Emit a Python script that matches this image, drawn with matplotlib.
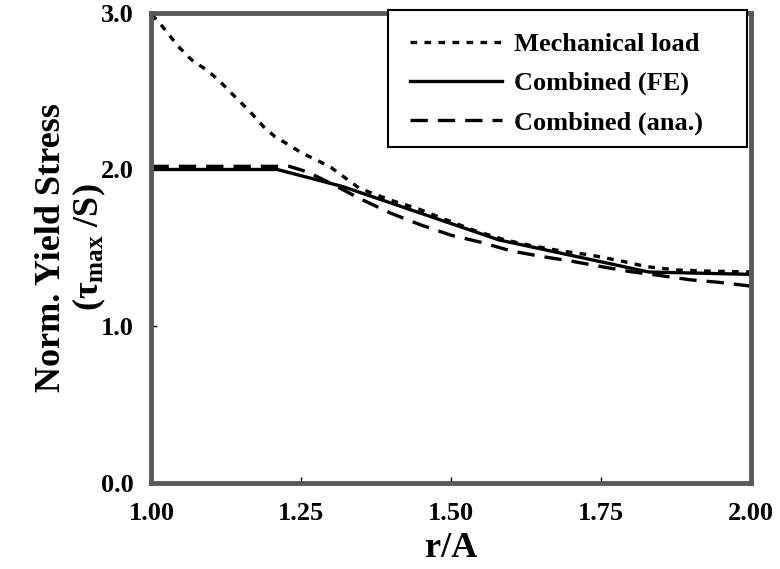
import matplotlib
matplotlib.use("Agg")
import matplotlib.pyplot as plt
from matplotlib.patches import Rectangle

# normalised yield stress vs. radius ratio
mech_r = [1.00, 1.014, 1.045, 1.067, 1.092, 1.112, 1.131, 1.148, 1.167, 1.187,
          1.206, 1.228, 1.251, 1.277, 1.300, 1.322, 1.347, 1.398, 1.443, 1.493,
          1.540, 1.590, 1.637, 1.685, 1.732, 1.782, 1.827, 1.877, 1.927, 2.00]
mech_y = [2.99, 2.934, 2.785, 2.700, 2.636, 2.572, 2.497, 2.433, 2.359, 2.274,
          2.210, 2.160, 2.105, 2.058, 2.012, 1.950, 1.880, 1.805, 1.752, 1.677,
          1.609, 1.550, 1.511, 1.479, 1.454, 1.417, 1.379, 1.358, 1.351, 1.345]

fe_r = [1.00, 1.21, 1.32, 1.58, 1.83, 2.00]
fe_y = [2.00, 2.00, 1.89, 1.55, 1.345, 1.33]

ana_r = [1.00, 1.23, 1.26, 1.30, 1.35, 1.40, 1.45, 1.50, 1.55, 1.60, 1.65,
         1.70, 1.75, 1.80, 1.85, 1.90, 1.95, 2.00]
ana_y = [2.02, 2.02, 1.985, 1.91, 1.81, 1.72, 1.645, 1.58, 1.535, 1.48, 1.445,
         1.415, 1.38, 1.347, 1.322, 1.295, 1.278, 1.255]

x_ticks = [1.00, 1.25, 1.50, 1.75, 2.00]
x_labels = ["1.00", "1.25", "1.50", "1.75", "2.00"]
y_ticks = [0.0, 1.0, 2.0, 3.0]
y_labels = ["0.0", "1.0", "2.0", "3.0"]

plt.rcParams["font.family"] = ["Liberation Serif", "DejaVu Serif"]
plt.rcParams["font.weight"] = "bold"
plt.rcParams["mathtext.fontset"] = "custom"
plt.rcParams["mathtext.rm"] = "Liberation Serif:bold"
plt.rcParams["mathtext.it"] = "Liberation Serif:bold"
plt.rcParams["mathtext.bf"] = "Liberation Serif:bold"

fig = plt.figure(figsize=(7.8, 5.69), dpi=100)
ax = fig.add_axes([0.1942, 0.152, 0.768, 0.8252])

lw = 2.4
ax.plot(mech_r, mech_y, color="black", lw=lw, dashes=(2.0, 2.2),
        label="Mechanical load")
ax.plot(fe_r, fe_y, color="black", lw=lw, label="Combined (FE)")
ax.plot(ana_r, ana_y, color="black", lw=lw, dashes=(5.2, 3.0),
        label="Combined (ana.)")

ax.set_xlim(1.0, 2.0)
ax.set_ylim(0.0, 3.0)
ax.set_xticks(x_ticks)
ax.set_xticklabels(x_labels)
ax.set_yticks(y_ticks)
ax.set_yticklabels(y_labels)
ax.tick_params(direction="in", length=4, width=1, labelsize=19)
ax.tick_params(axis="x", pad=14)
ax.tick_params(axis="y", pad=13)

for side in ax.spines.values():
    side.set_color("0.35")
    side.set_linewidth(3.5)

ax.set_xlabel("r/A", fontsize=26, fontweight="bold", labelpad=5)

fig.text(0.066, 0.565, "Norm. Yield Stress", rotation=90, fontsize=26,
         fontweight="bold", ha="center", va="center")
fig.text(0.115, 0.565, r"($\tau_{\rm max}$ /S)", rotation=90, fontsize=26,
         fontweight="bold", ha="center", va="center")

# legend box is drawn separately so it can be wider than its entries
box = Rectangle((0.395, 0.7146), 0.5992, 0.2918, transform=ax.transAxes,
                facecolor="white", edgecolor="black", lw=1.5,
                clip_on=False, zorder=4)
ax.add_patch(box)
leg = ax.legend(loc="upper left", bbox_to_anchor=(0.4316, 0.958),
                prop={"family": "Liberation Serif", "weight": "bold", "size": 19},
                handlelength=3.5, handletextpad=0.45, labelspacing=0.58,
                borderpad=0.0, borderaxespad=0.0, frameon=False)
leg.set_zorder(5)

fig.savefig("out.png", dpi=100)
